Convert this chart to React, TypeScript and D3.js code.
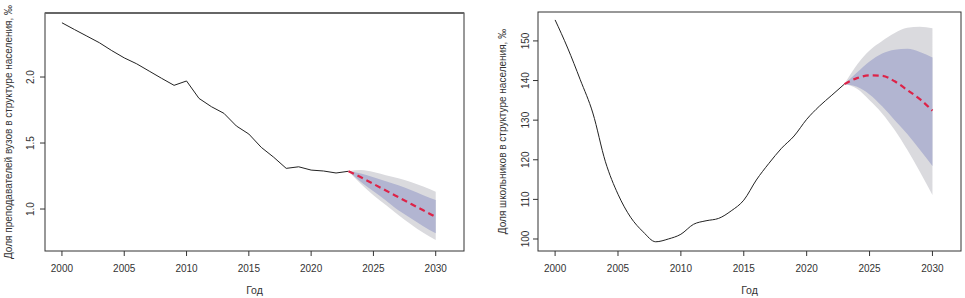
import React from "react";
import * as d3 from "d3";

// ---- Data: left panel (university teachers, ‰) ----
const yearsObs = d3.range(2000, 2024);
const teachersObs = [2.411, 2.36, 2.31, 2.26, 2.2, 2.145, 2.1, 2.045, 1.99, 1.937, 1.97, 1.838, 1.775, 1.725, 1.629, 1.568, 1.467, 1.392, 1.308, 1.32, 1.295, 1.288, 1.273, 1.286];
const yearsFc = [2023, 2024, 2025, 2026, 2027, 2028, 2029, 2030];
const teachersMean = [1.286, 1.24, 1.19, 1.14, 1.09, 1.04, 0.99, 0.94];
const teachersLo80 = [1.286, 1.205, 1.135, 1.065, 0.99, 0.93, 0.87, 0.816];
const teachersHi80 = [1.286, 1.27, 1.24, 1.21, 1.18, 1.145, 1.105, 1.068];
const teachersLo95 = [1.286, 1.19, 1.105, 1.03, 0.955, 0.885, 0.82, 0.765];
const teachersHi95 = [1.286, 1.295, 1.28, 1.255, 1.233, 1.205, 1.17, 1.131];
const teachersTicks = [1.0, 1.5, 2.0];

// ---- Data: right panel (schoolchildren, ‰) ----
const pupilsObs = [155.3, 148.2, 140.2, 131.8, 119.5, 111.3, 105.5, 101.8, 99.3, 100.0, 101.2, 103.7, 104.6, 105.2, 107.1, 109.8, 114.9, 119.1, 122.9, 126.0, 130.2, 133.5, 136.3, 139.1];
const pupilsMean = [139.1, 140.6, 141.3, 141.2, 139.8, 137.6, 135.3, 132.4];
const pupilsLo80 = [139.1, 138.4, 136.5, 133.5, 130.0, 126.5, 122.5, 118.4];
const pupilsHi80 = [139.1, 142.0, 144.8, 146.8, 147.8, 148.0, 147.2, 145.8];
const pupilsLo95 = [139.1, 137.9, 135.0, 131.7, 127.5, 122.5, 117.0, 111.1];
const pupilsHi95 = [139.1, 144.0, 147.6, 150.0, 152.0, 153.3, 153.6, 153.2];
const pupilsTicks = [100, 110, 120, 130, 140, 150];

const xTicks = [2000, 2005, 2010, 2015, 2020, 2025, 2030];

const FONT = "'Liberation Sans', Arial, sans-serif";
const TXT = "#333";

type PanelProps = {
  left: number; right: number; top: number; bottom: number;
  yDomain: [number, number];
  obs: number[]; mean: number[]; lo80: number[]; hi80: number[]; lo95: number[]; hi95: number[];
  yTicks: number[]; fmt: (v: number) => string;
  yLabelX: number; titleX: number; title: string; smooth: boolean; thickTop?: boolean;
};

function Panel(p: PanelProps) {
  const x = d3.scaleLinear().domain([1998.64, 2032.27]).range([p.left, p.right]);
  const y = d3.scaleLinear().domain(p.yDomain).range([p.bottom, p.top]);
  const curve = p.smooth ? d3.curveMonotoneX : d3.curveLinear;
  const line = d3.line<number>().x((_, i) => x(yearsObs[i])).y((d) => y(d)).curve(curve);
  const fcLine = d3.line<number>().x((_, i) => x(yearsFc[i])).y((d) => y(d)).curve(d3.curveMonotoneX);
  const area = (lo: number[], hi: number[]) =>
    d3.area<number>().x((_, i) => x(yearsFc[i])).y0((_, i) => y(lo[i])).y1((_, i) => y(hi[i])).curve(d3.curveMonotoneX)(lo) || "";
  const cx = (p.left + p.right) / 2;
  const cy = (p.top + p.bottom) / 2;
  return (
    <g>
      <path d={area(p.lo95, p.hi95)} fill="#dadade" />
      <path d={area(p.lo80, p.hi80)} fill="#b2b5d1" />
      <path d={line(p.obs) || ""} fill="none" stroke="#222" strokeWidth={1} />
      <path d={fcLine(p.mean) || ""} fill="none" stroke="#dd2348" strokeWidth={2.2} strokeDasharray="6,4" />
      <rect x={p.left} y={p.top} width={p.right - p.left} height={p.bottom - p.top} fill="none" stroke="#333" strokeWidth={1} />
      {p.thickTop && <line x1={p.left} x2={p.right} y1={p.top} y2={p.top} stroke="#666" strokeWidth={2} />}
      {xTicks.map((t) => (
        <g key={t}>
          <line x1={x(t)} x2={x(t)} y1={p.bottom} y2={p.bottom + 5} stroke="#333" />
          <text x={x(t)} y={272} textAnchor="middle" fontSize={10} fill={TXT} fontFamily={FONT}>{t}</text>
        </g>
      ))}
      {p.yTicks.map((t) => (
        <g key={t}>
          <line x1={p.left - 5} x2={p.left} y1={y(t)} y2={y(t)} stroke="#333" />
          <text transform={`translate(${p.yLabelX},${y(t)}) rotate(-90)`} textAnchor="middle" fontSize={10} fill={TXT} fontFamily={FONT}>{p.fmt(t)}</text>
        </g>
      ))}
      <text x={cx} y={294} textAnchor="middle" fontSize={10.5} fill={TXT} fontFamily={FONT}>Год</text>
      <text transform={`translate(${p.titleX},${cy}) rotate(-90)`} textAnchor="middle" fontSize={10} fill={TXT} fontFamily={FONT}>{p.title}</text>
    </g>
  );
}

export default function App() {
  return (
    <svg width={965} height={298} style={{ position: "absolute", left: 0, top: 0, background: "#fff" }}>
      <rect width={965} height={298} fill="#fff" />
      <Panel left={45} right={464} top={13} bottom={251} yDomain={[0.682, 2.485]}
        obs={teachersObs} mean={teachersMean} lo80={teachersLo80} hi80={teachersHi80} lo95={teachersLo95} hi95={teachersHi95}
        yTicks={teachersTicks} fmt={(v) => v.toFixed(1)} yLabelX={34} titleX={12}
        title="Доля преподавателей вузов в структуре населения, ‰" smooth={false} thickTop />
      <Panel left={538} right={961} top={12} bottom={251} yDomain={[96.97, 157.3]}
        obs={pupilsObs} mean={pupilsMean} lo80={pupilsLo80} hi80={pupilsHi80} lo95={pupilsLo95} hi95={pupilsHi95}
        yTicks={pupilsTicks} fmt={(v) => String(v)} yLabelX={529} titleX={506}
        title="Доля школьников в структуре населения, ‰" smooth={true} />
    </svg>
  );
}
